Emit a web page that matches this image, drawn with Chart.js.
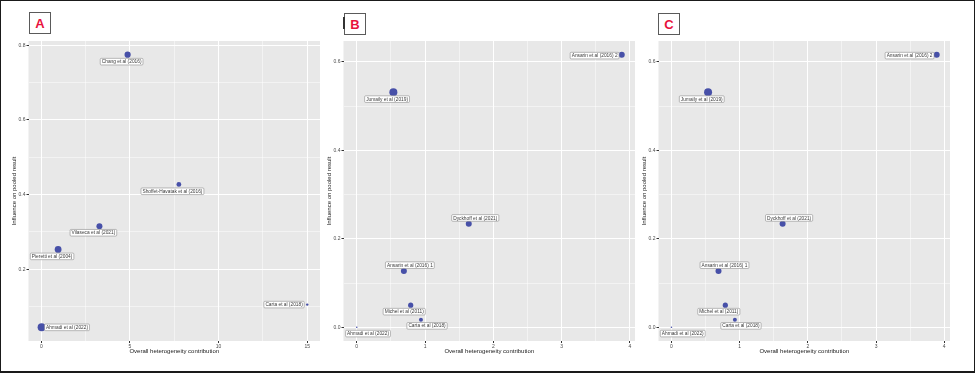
<!DOCTYPE html>
<html><head><meta charset="utf-8">
<script src="https://cdn.jsdelivr.net/npm/chart.js@4.4.1/dist/chart.umd.min.js"></script>
<style>
html,body{margin:0;padding:0;background:#fff;}
#wrap{position:relative;width:975px;height:373px;overflow:hidden;font-family:"Liberation Sans",Arial,sans-serif;background:#fff;}
#frame{position:absolute;left:0;top:0;width:975px;height:373px;box-sizing:border-box;border:1.5px solid #1a1a1a;border-bottom-width:2px;pointer-events:none;}
canvas{position:absolute;}
.tag{position:absolute;width:20px;height:20px;border:1px solid #5a5a5a;color:#e8123c;font-weight:bold;font-size:13px;line-height:21px;text-align:center;font-family:"Liberation Sans",Arial,sans-serif;}
.bar{position:absolute;left:343px;top:17px;width:2px;height:12px;background:#333;}
</style></head>
<body><div id="wrap">
<canvas id="cA" width="320" height="334" style="left:4px;top:36px"></canvas>
<canvas id="cB" width="320" height="334" style="left:319px;top:36px"></canvas>
<canvas id="cC" width="320" height="334" style="left:634px;top:36px"></canvas>
<div class="tag" style="left:29px;top:12px">A</div>
<div class="tag" style="left:344px;top:13px">B</div>
<div class="bar"></div>
<div class="tag" style="left:658px;top:13px">C</div>
<div id="frame"></div>
</div>
<script>
// ---------- data ----------
const studiesA = ['Ahmadi et al (2022)','Pieretti et al (2004)','Vilaseca et al (2021)','Chang et al (2016)','Shoffet-Havatak et al (2016)','Carta et al (2018)'];
const heteroA = [0.02, 0.95, 3.28, 4.87, 7.76, 15.0];
const influenceA = [0.044, 0.253, 0.315, 0.775, 0.427, 0.105];
const weightA = [4.0, 3.4, 3.0, 3.1, 2.4, 1.2];

const studiesB = ['Ansarin et al (2016) 2','Jumaily et al (2019)','Dyckhoff et al (2021)','Ansarin et al (2016) 1','Michel et al (2011)','Carta et al (2018)','Ahmadi et al (2022)'];
const heteroB = [3.88, 0.536, 1.64, 0.69, 0.79, 0.94, 0.0];
const influenceB = [0.616, 0.531, 0.234, 0.127, 0.050, 0.017, 0.0];
const weightB = [3.0, 4.0, 3.0, 3.0, 2.6, 2.0, 0.8];

const studiesC = ['Ansarin et al (2016) 2','Jumaily et al (2019)','Dyckhoff et al (2021)','Ansarin et al (2016) 1','Michel et al (2011)','Carta et al (2018)','Ahmadi et al (2022)'];
const heteroC = [3.89, 0.537, 1.63, 0.69, 0.79, 0.93, 0.0];
const influenceC = [0.616, 0.531, 0.234, 0.127, 0.050, 0.017, 0.0];
const weightC = [3.0, 4.0, 3.0, 3.0, 2.6, 2.0, 0.8];

// tick values / labels
const xMajorA = [0, 5, 10, 15];        const xLabelsA = ['0','5','10','15'];
const xMinorA = [2.5, 7.5, 12.5];
const yMajorA = [0.2, 0.4, 0.6, 0.8];  const yLabelsA = ['0.2','0.4','0.6','0.8'];
const yMinorA = [0.1, 0.3, 0.5, 0.7];
const xMajorB = [0, 1, 2, 3, 4];       const xLabelsB = ['0','1','2','3','4'];
const xMinorB = [0.5, 1.5, 2.5, 3.5];
const yMajorB = [0, 0.2, 0.4, 0.6];    const yLabelsB = ['0.0','0.2','0.4','0.6'];
const yMinorB = [0.1, 0.3, 0.5];

// ---------- label placement (px offsets, style only) ----------
const placeA = [[3,0,'left'],[-6,7,'center'],[-6,6.5,'center'],[-6,7,'center'],[-6.4,6.8,'center'],[-3,0,'right']];
const placeB = [[-2.7,0.9,'right'],[-6.3,6.8,'center'],[6.5,-5.8,'center'],[6,-5.9,'center'],[-6.5,6.5,'center'],[6.1,6.1,'center'],[11.3,6.3,'center']];

const POINT = '#4750a8';
const FONT = '"Liberation Sans", Arial, sans-serif';

const panelBg = {
  id: 'panelBg',
  beforeDraw(chart) {
    const a = chart.chartArea, c = chart.ctx;
    c.save(); c.fillStyle = '#e8e8e8';
    c.fillRect(a.left, a.top, a.right - a.left, a.bottom - a.top);
    c.restore();
  }
};

const studyLabels = {
  id: 'studyLabels',
  afterDatasetsDraw(chart, args, opts) {
    const c = chart.ctx, meta = chart.getDatasetMeta(0);
    c.save();
    c.font = '4.8px ' + FONT;
    c.textBaseline = 'middle'; c.textAlign = 'center';
    meta.data.forEach((pt, i) => {
      const txt = opts.text[i], p = opts.pos[i];
      const w = c.measureText(txt).width + 3, h = 6.6;
      let cx = pt.x + p[0];
      if (p[2] === 'left') cx += w / 2; else if (p[2] === 'right') cx -= w / 2;
      const cy = pt.y + p[1];
      const x0 = cx - w / 2, y0 = cy - h / 2, r = 1;
      c.beginPath();
      c.moveTo(x0 + r, y0); c.lineTo(x0 + w - r, y0); c.arcTo(x0 + w, y0, x0 + w, y0 + r, r);
      c.lineTo(x0 + w, y0 + h - r); c.arcTo(x0 + w, y0 + h, x0 + w - r, y0 + h, r);
      c.lineTo(x0 + r, y0 + h); c.arcTo(x0, y0 + h, x0, y0 + h - r, r);
      c.lineTo(x0, y0 + r); c.arcTo(x0, y0, x0 + r, y0, r); c.closePath();
      c.fillStyle = '#ffffff'; c.fill();
      c.strokeStyle = '#8c8c8c'; c.lineWidth = 0.6; c.stroke();
      c.fillStyle = '#3a3a3a';
      c.fillText(txt, cx, cy + 0.3);
    });
    c.restore();
  }
};

function isIn(list, v) { return list.findIndex(m => Math.abs(m - v) < 1e-9); }

function axis(min, max, majors, minors, labels, isX) {
  const all = majors.concat(minors);
  const o = {
    type: 'linear', min: min, max: max,
    afterBuildTicks: s => { s.ticks = all.filter(v => v >= min && v <= max).sort((a,b)=>a-b).map(v => ({value: v})); },
    afterFit: s => { if (isX) s.height = 29; else s.width = 24.5; },
    ticks: {
      autoSkip: false, maxRotation: 0, minRotation: 0, padding: 1,
      color: '#4d4d4d', font: {size: 5, family: FONT},
      callback: v => { const k = isIn(majors, v); return k >= 0 ? labels[k] : ''; }
    },
    grid: {
      color: '#ffffff',
      lineWidth: ctx => (ctx.tick && isIn(majors, ctx.tick.value) >= 0) ? 1 : 0.5,
      tickColor: ctx => (ctx.tick && isIn(majors, ctx.tick.value) >= 0) ? '#333333' : 'rgba(0,0,0,0)',
      tickLength: 2, drawTicks: true
    },
    border: {display: false},
    title: {
      display: true, color: '#1a1a1a', font: {size: 6, family: FONT},
      text: isX ? 'Overall heterogeneity contribution' : 'Influence on pooled result',
      padding: isX ? {top: 0, bottom: 14.7} : {top: 6.4, bottom: 0}
    }
  };
  return o;
}

function makeChart(id, xs, ys, rs, names, place, xr, yr, xMaj, xMin, xLab, yMaj, yMin, yLab) {
  new Chart(document.getElementById(id), {
    type: 'scatter',
    data: { datasets: [{
      data: xs.map((v, i) => ({x: v, y: ys[i]})),
      pointRadius: rs, pointHoverRadius: rs,
      backgroundColor: POINT, borderWidth: 0
    }]},
    options: {
      responsive: false, animation: false, events: [],
      layout: {padding: {left: 0, right: 3, top: 5, bottom: 0}},
      plugins: { legend: {display: false}, tooltip: {enabled: false},
        studyLabels: {text: names, pos: place} },
      scales: {
        x: axis(xr[0], xr[1], xMaj, xMin, xLab, true),
        y: axis(yr[0], yr[1], yMaj, yMin, yLab, false)
      }
    },
    plugins: [panelBg, studyLabels]
  });
}

makeChart('cA', heteroA, influenceA, weightA, studiesA, placeA, [-0.72, 15.72], [0.0074, 0.8116],
  xMajorA, xMinorA, xLabelsA, yMajorA, yMinorA, yLabelsA);
makeChart('cB', heteroB, influenceB, weightB, studiesB, placeB, [-0.194, 4.074], [-0.031, 0.647],
  xMajorB, xMinorB, xLabelsB, yMajorB, yMinorB, yLabelsB);
makeChart('cC', heteroC, influenceC, weightC, studiesC, placeB, [-0.19, 4.085], [-0.031, 0.647],
  xMajorB, xMinorB, xLabelsB, yMajorB, yMinorB, yLabelsB);
</script>
</body></html>
